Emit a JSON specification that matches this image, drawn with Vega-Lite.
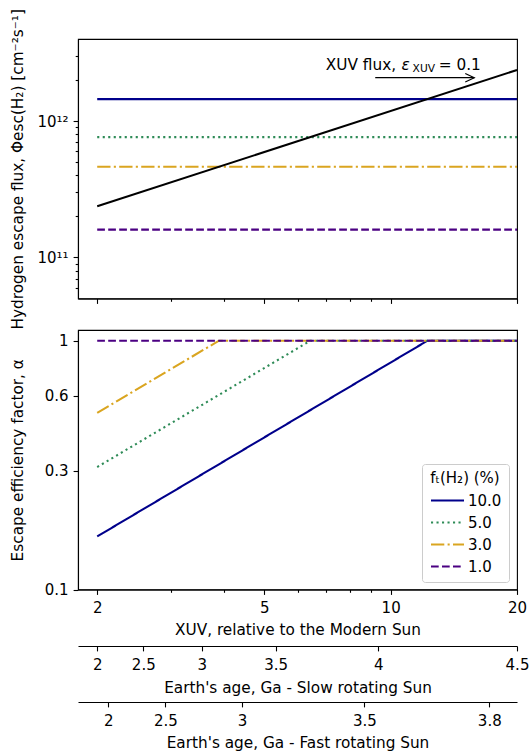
{
  "$schema": "https://vega.github.io/schema/vega-lite/v6.json",
  "padding": {"left": 9, "top": 7, "right": 5, "bottom": 0},
  "background": "white",
  "config": {
    "font": "DejaVu Sans",
    "view": {"stroke": "black", "strokeWidth": 1.1},
    "axis": {"grid": false, "labelFont": "DejaVu Sans", "titleFont": "DejaVu Sans", "labelFontSize": 15, "titleFontSize": 15.3, "titleFontWeight": "normal", "labelColor": "black", "titleColor": "black", "tickColor": "black", "domainColor": "black", "domainWidth": 1.1, "tickWidth": 1.1, "labelOverlap": false, "labelFlush": false, "labelBound": false},
    "text": {"font": "DejaVu Sans"}
  },
  "datasets": {
    "flux": [
      {"f": "10.0", "xuv": 2, "v": 1.45e12}, {"f": "10.0", "xuv": 20, "v": 1.45e12},
      {"f": "5.0", "xuv": 2, "v": 7.63e11}, {"f": "5.0", "xuv": 20, "v": 7.63e11},
      {"f": "3.0", "xuv": 2, "v": 4.62e11}, {"f": "3.0", "xuv": 20, "v": 4.62e11},
      {"f": "1.0", "xuv": 2, "v": 1.6e11}, {"f": "1.0", "xuv": 20, "v": 1.6e11}
    ],
    "xuvflux": [{"xuv": 2, "v": 2.37e11}, {"xuv": 20, "v": 2.37e12}],
    "alpha": [
      {"f": "10.0", "xuv": 2, "a": 0.1634}, {"f": "10.0", "xuv": 12.24, "a": 1}, {"f": "10.0", "xuv": 20, "a": 1},
      {"f": "5.0", "xuv": 2, "a": 0.3106}, {"f": "5.0", "xuv": 6.44, "a": 1}, {"f": "5.0", "xuv": 20, "a": 1},
      {"f": "3.0", "xuv": 2, "a": 0.513}, {"f": "3.0", "xuv": 3.9, "a": 1}, {"f": "3.0", "xuv": 20, "a": 1},
      {"f": "1.0", "xuv": 2, "a": 1}, {"f": "1.0", "xuv": 20, "a": 1}
    ],
    "slow": [
      {"age": "2", "xuv": 2}, {"age": "2.5", "xuv": 2.575}, {"age": "3", "xuv": 3.547},
      {"age": "3.5", "xuv": 5.32}, {"age": "4", "xuv": 9.35}, {"age": "4.5", "xuv": 20}
    ],
    "fast": [
      {"age": "2", "xuv": 2.126}, {"age": "2.5", "xuv": 2.906}, {"age": "3", "xuv": 4.426},
      {"age": "3.5", "xuv": 8.66}, {"age": "3.8", "xuv": 17.18}
    ]
  },
  "bounds": "flush",
  "spacing": 31,
  "resolve": {"scale": {"color": "independent", "strokeDash": "independent"}},
  "vconcat": [
    {
      "width": 439, "height": 259.5,
      "layer": [
        {
          "data": {"name": "flux"},
          "mark": {"type": "line", "strokeWidth": 2.08},
          "encoding": {
            "x": {"field": "xuv", "type": "quantitative",
              "scale": {"type": "log", "domain": [1.8, 20], "nice": false},
              "axis": {"values": [2, 3, 4, 5, 6, 7, 8, 9, 10, 20], "labels": false, "title": null,
                "tickSize": {"condition": {"test": "indexof([2,5,10,20], datum.value) >= 0", "value": 4.9}, "value": 2.8}}},
            "y": {"field": "v", "type": "quantitative",
              "scale": {"type": "log", "domain": [5e10, 4e12], "nice": false},
              "axis": {"values": [6e10, 7e10, 8e10, 9e10, 1e11, 2e11, 3e11, 4e11, 5e11, 6e11, 7e11, 8e11, 9e11, 1e12, 2e12, 3e12],
                "labelExpr": "datum.value == 1e11 ? '10¹¹' : (datum.value == 1e12 ? '10¹²' : '')",
                "labelPadding": 5,
                "tickSize": {"condition": {"test": "datum.value == 1e11 || datum.value == 1e12", "value": 4.9}, "value": 2.8},
                "title": "Hydrogen escape flux, Φesc(H₂) [cm⁻²s⁻¹]", "titleX": -53, "titleBaseline": "bottom"}},
            "color": {"field": "f", "type": "nominal", "scale": {"domain": ["10.0", "5.0", "3.0", "1.0"], "range": ["#00008b", "#2e8b57", "#daa520", "#4b0082"]}, "legend": null},
            "strokeDash": {"field": "f", "type": "nominal", "scale": {"domain": ["10.0", "5.0", "3.0", "1.0"], "range": [[1, 0], [2.1, 3.4], [13.3, 3.3, 2.1, 3.3], [7.7, 3.3]]}, "legend": null}
          }
        },
        {
          "data": {"name": "xuvflux"},
          "mark": {"type": "line", "color": "black", "strokeWidth": 2.08},
          "encoding": {"x": {"field": "xuv", "type": "quantitative"}, "y": {"field": "v", "type": "quantitative"}}
        },
        {
          "data": {"values": [{}]},
          "mark": {"type": "text", "align": "left", "baseline": "middle", "fontSize": 15.3, "color": "black", "text": "XUV flux,"},
          "encoding": {"x": {"datum": 7.01}, "y": {"datum": 2.59e12}}
        },
        {
          "data": {"values": [{}]},
          "mark": {"type": "text", "align": "left", "baseline": "middle", "fontSize": 15.3, "fontStyle": "italic", "color": "black", "text": "ε"},
          "encoding": {"x": {"datum": 10.62}, "y": {"datum": 2.59e12}}
        },
        {
          "data": {"values": [{}]},
          "mark": {"type": "text", "align": "left", "baseline": "middle", "fontSize": 10.7, "dy": 4, "color": "black", "text": "XUV"},
          "encoding": {"x": {"datum": 11.28}, "y": {"datum": 2.59e12}}
        },
        {
          "data": {"values": [{}]},
          "mark": {"type": "text", "align": "left", "baseline": "middle", "fontSize": 15.3, "color": "black", "text": "= 0.1"},
          "encoding": {"x": {"datum": 13.02}, "y": {"datum": 2.59e12}}
        },
        {
          "data": {"values": [{}]},
          "mark": {"type": "rule", "color": "black", "strokeWidth": 1.2},
          "encoding": {"x": {"datum": 9.19}, "x2": {"datum": 15.82}, "y": {"datum": 2.08e12}}
        },
        {
          "data": {"values": [{}]},
          "mark": {"type": "point", "shape": "M-1,-0.47L0,0L-1,0.47", "filled": false, "stroke": "black", "strokeWidth": 1.2, "size": 324, "opacity": 1},
          "encoding": {"x": {"datum": 15.82}, "y": {"datum": 2.08e12}}
        }
      ]
    },
    {
      "width": 439, "height": 259.5,
      "data": {"name": "alpha"},
      "mark": {"type": "line", "strokeWidth": 2.08},
      "encoding": {
        "x": {"field": "xuv", "type": "quantitative",
          "scale": {"type": "log", "domain": [1.8, 20], "nice": false},
          "axis": {"values": [2, 3, 4, 5, 6, 7, 8, 9, 10, 20],
            "labelExpr": "indexof([2,5,10,20], datum.value) >= 0 ? '' + datum.value : ''",
            "labelPadding": 6.5,
            "tickSize": {"condition": {"test": "indexof([2,5,10,20], datum.value) >= 0", "value": 4.9}, "value": 2.8},
            "title": "XUV, relative to the Modern Sun", "titlePadding": 6.5}},
        "y": {"field": "a", "type": "quantitative",
          "scale": {"type": "log", "domain": [0.1, 1.104], "nice": false},
          "axis": {"values": [0.1, 0.3, 0.6, 1], "format": "~g", "labelPadding": 5, "tickSize": 4.9,
            "title": "Escape efficiency factor, α", "titleX": -53, "titleBaseline": "bottom"}},
        "color": {"field": "f", "type": "nominal", "scale": {"domain": ["10.0", "5.0", "3.0", "1.0"], "range": ["#00008b", "#2e8b57", "#daa520", "#4b0082"]},
          "legend": {"title": "fₜ(H₂) (%)", "orient": "bottom-right", "offset": 8, "symbolType": "M-1,0H5", "symbolSize": 121, "symbolStrokeWidth": 2.08, "symbolFillColor": "transparent", "labelFontSize": 15, "titleFontSize": 15, "titleFontWeight": "normal", "labelColor": "black", "titleColor": "black", "padding": 7, "strokeColor": "#cccccc", "fillColor": "white", "cornerRadius": 3, "rowPadding": 6, "titlePadding": 7, "titleAnchor": "middle", "labelOffset": 24}},
        "strokeDash": {"field": "f", "type": "nominal", "scale": {"domain": ["10.0", "5.0", "3.0", "1.0"], "range": [[1, 0], [2.1, 3.4], [13.3, 3.3, 2.1, 3.3], [7.7, 3.3]]},
          "legend": {"title": "fₜ(H₂) (%)", "orient": "bottom-right", "offset": 8, "symbolType": "M-1,0H5", "symbolSize": 121, "symbolStrokeWidth": 2.08, "symbolFillColor": "transparent", "labelFontSize": 15, "titleFontSize": 15, "titleFontWeight": "normal", "labelColor": "black", "titleColor": "black", "padding": 7, "strokeColor": "#cccccc", "fillColor": "white", "cornerRadius": 3, "rowPadding": 6, "titlePadding": 7, "titleAnchor": "middle", "labelOffset": 24}}
      }
    },
    {
      "width": 439, "height": 25,
      "view": {"stroke": null},
      "data": {"name": "slow"},
      "mark": {"type": "point", "opacity": 0},
      "encoding": {
        "x": {"field": "xuv", "type": "quantitative",
          "scale": {"type": "log", "domain": [1.8, 20], "nice": false},
          "axis": {"orient": "bottom", "values": [2, 2.575, 3.547, 5.32, 9.35, 20],
            "labelExpr": "['2','2.5','3','3.5','4','4.5'][indexof([2,2.575,3.547,5.32,9.35,20], datum.value)]",
            "labelPadding": 6.5, "tickSize": 4.9,
            "title": "Earth's age, Ga - Slow rotating Sun", "titlePadding": 8}}
      }
    },
    {
      "width": 439, "height": 25,
      "view": {"stroke": null},
      "data": {"name": "fast"},
      "mark": {"type": "point", "opacity": 0},
      "encoding": {
        "x": {"field": "xuv", "type": "quantitative",
          "scale": {"type": "log", "domain": [1.8, 20], "nice": false},
          "axis": {"orient": "bottom", "values": [2.126, 2.906, 4.426, 8.66, 17.18],
            "labelExpr": "['2','2.5','3','3.5','3.8'][indexof([2.126,2.906,4.426,8.66,17.18], datum.value)]",
            "labelPadding": 6.5, "tickSize": 4.9,
            "title": "Earth's age, Ga - Fast rotating Sun", "titlePadding": 7}}
      }
    }
  ]
}
